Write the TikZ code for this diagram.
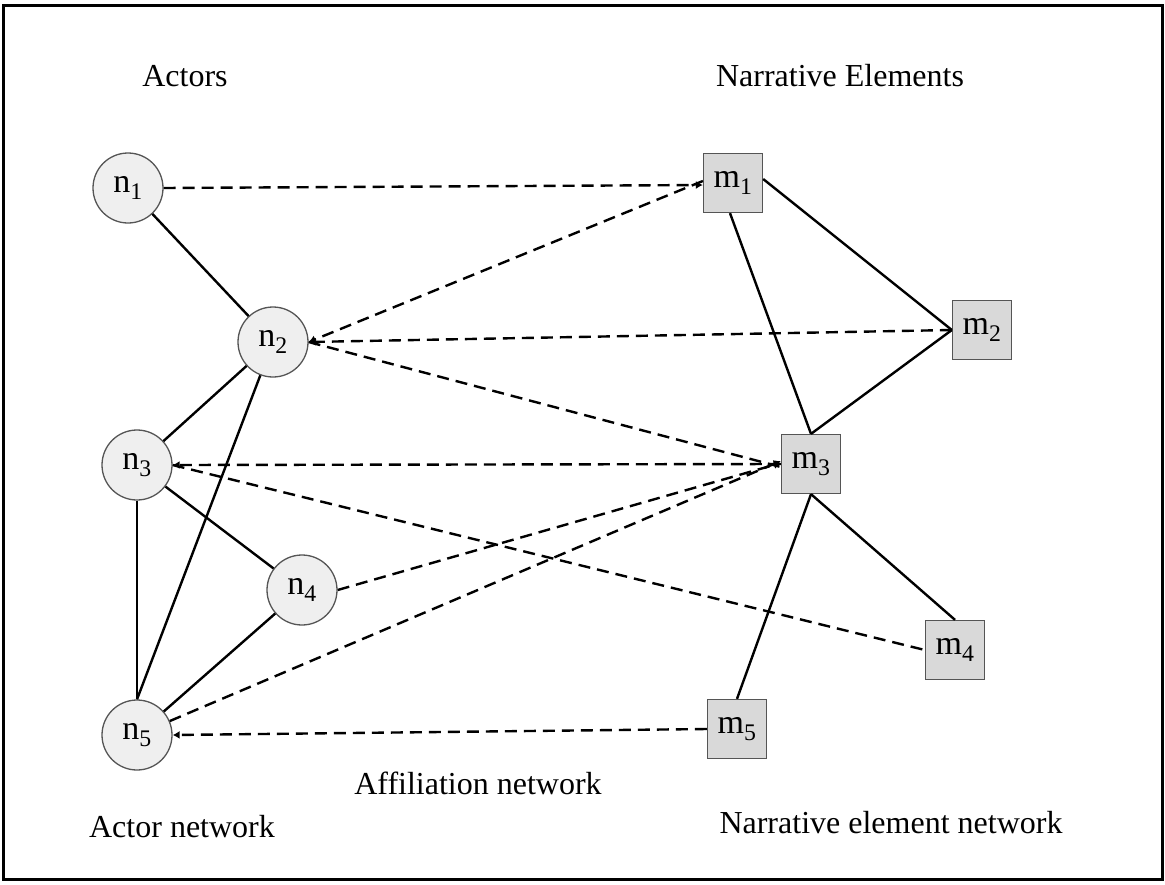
\documentclass[tikz,border=0pt]{standalone}
\usepackage{fontspec}
\setmainfont{Liberation Serif}
\usetikzlibrary{arrows.meta}
\definecolor{circfill}{HTML}{EFEFEF}
\definecolor{boxfill}{HTML}{D9D9D9}
\definecolor{edgegray}{HTML}{555555}
\tikzset{
  actor/.style={circle, draw=edgegray, line width=1.3pt, fill=circfill, minimum size=70pt, inner sep=0pt, font=\fontsize{34}{38}\selectfont},
  element/.style={rectangle, draw=edgegray, line width=1.3pt, fill=boxfill, minimum size=59pt, inner sep=0pt, font=\fontsize{34}{38}\selectfont},
  tie/.style={line width=2.4pt, black},
  affil/.style={line width=2.4pt, black, dash pattern=on 12pt off 7pt},
  tip/.style={-{Latex[length=7pt,width=8pt]}},
  caption/.style={font=\fontsize{32}{38}\selectfont, inner sep=0pt, anchor=base}
}
\begin{document}
\begin{tikzpicture}[x=1pt,y=-1pt]
\useasboundingbox (0,0) rectangle (1165,884);
\draw[line width=3pt] (3,5) rectangle (1162,879);

% captions
\node[caption] (tActors) at (185,86) {Actors};
\node[caption] (tNarr) at (840,86) {Narrative Elements};
\node[caption] (tAffil) at (478,794) {Affiliation network};
\node[caption] (tActNet) at (182,837) {Actor network};
\node[caption] (tElNet) at (891,833) {Narrative element network};

% actors
\node[actor] (n1) at (128,188) {n\textsubscript{1}};
\node[actor] (n2) at (273,342) {n\textsubscript{2}};
\node[actor] (n3) at (137,465) {n\textsubscript{3}};
\node[actor] (n4) at (302,590) {n\textsubscript{4}};
\node[actor] (n5) at (137,735) {n\textsubscript{5}};

% narrative elements
\node[element] (m1) at (733,183) {m\textsubscript{1}};
\node[element] (m2) at (982,330) {m\textsubscript{2}};
\node[element] (m3) at (811,464) {m\textsubscript{3}};
\node[element] (m4) at (955,650) {m\textsubscript{4}};
\node[element] (m5) at (737,729) {m\textsubscript{5}};

% actor network
\draw[tie] (n1) -- (n2);
\draw[tie] (n2) -- (n3);
\draw[tie] (n2) -- (n5.north);
\draw[tie] (n3) -- (n4);
\draw[tie] (n3.south) -- (n5.north);
\draw[tie] (n4) -- (n5);

% narrative element network
\draw[tie] ([yshift=4pt]m1.east) -- (m2.west);
\draw[tie] ([xshift=-3pt]m1.south) -- (m3.north);
\draw[tie] (m2.west) -- (m3.north);
\draw[tie] (m3.south) -- (m4.north);
\draw[tie] (m3.south) -- (m5.north);

% affiliation network
\draw[affil, tip] (n1.east) -- ([yshift=-2pt]m1.west);
\draw[affil, tip] ([yshift=2pt]m1.west) -- (n2.east);
\draw[affil, tip] (m2.west) -- (n2.east);
\draw[affil] (n2.east) -- ([yshift=-3pt]m3.west);
\draw[affil, tip] (m3.west) -- (n3.east);
\draw[affil] (n3.east) -- (m4.west);
\draw[affil, tip] (n4.east) -- ([yshift=1pt]m3.west);
\draw[affil, tip] (n5) -- ([yshift=3pt]m3.west);
\draw[affil, tip] (m5.west) -- (n5.east);
\end{tikzpicture}
\end{document}
